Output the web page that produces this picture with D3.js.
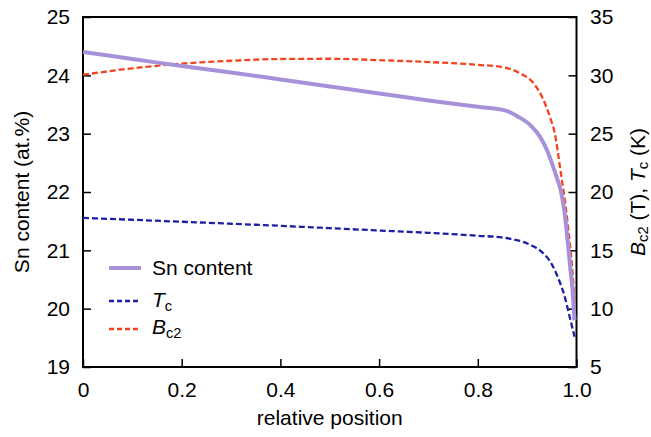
<!DOCTYPE html>
<html><head><meta charset="utf-8">
<script src="https://cdn.jsdelivr.net/npm/d3@7"></script>
<style>
html,body{margin:0;padding:0;background:#fff;}
text{font-family:"Liberation Sans",Arial,sans-serif;}
</style></head>
<body><svg id="c" width="651" height="437"></svg>
<script>
// ---- data ----
const snX   = [0,0.1,0.2,0.3,0.4,0.5,0.6,0.7,0.8,0.855,0.88,0.906,0.926,0.94,0.95,0.96,0.968,0.975,0.982,0.988,0.992,0.996];
const snY   = [24.40,24.28,24.16,24.05,23.93,23.81,23.69,23.57,23.46,23.40,23.30,23.15,22.95,22.72,22.50,22.25,22.03,21.70,21.17,20.65,20.32,19.80];
const tcX   = [0,0.1,0.2,0.3,0.4,0.5,0.6,0.7,0.8,0.85,0.87,0.89,0.91,0.93,0.95,0.965,0.975,0.985,0.996];
const tcY   = [17.78,17.62,17.45,17.28,17.10,16.90,16.70,16.50,16.25,16.10,15.95,15.75,15.40,14.85,13.80,12.40,11.20,9.50,7.60];
const bcX   = [0,0.1,0.2,0.3,0.4,0.5,0.6,0.683,0.8,0.852,0.886,0.913,0.93,0.946,0.956,0.967,0.982,0.992,0.997];
const bcY   = [30.05,30.60,31.00,31.25,31.40,31.42,31.30,31.17,30.90,30.69,30.17,29.32,28.17,26.45,25.03,22.00,17.35,13.06,10.00];
const xTicks = [0,0.2,0.4,0.6,0.8,1.0];
const leftTicks = [19,20,21,22,23,24,25];
const rightTicks = [5,10,15,20,25,30,35];

// ---- layout ----
const svg = d3.select("#c");
const L=83, R=576.5, T=17, B=367;
const x = d3.scaleLinear().domain([0,1]).range([L,R]);
const yL = d3.scaleLinear().domain([19,25]).range([B,T]);
const yR = d3.scaleLinear().domain([5,35]).range([B,T]);
const FS = 21;

const gx = svg.append("g").attr("transform",`translate(0,${B})`)
  .call(d3.axisBottom(x).tickValues(xTicks).tickSize(-8).tickSizeOuter(0).tickPadding(15)
    .tickFormat(d=>d===0?"0":d3.format(".1f")(d)));
const gl = svg.append("g").attr("transform",`translate(${L},0)`)
  .call(d3.axisLeft(yL).tickValues(leftTicks).tickSize(-8).tickSizeOuter(0).tickPadding(13).tickFormat(d3.format("d")));
const gr = svg.append("g").attr("transform",`translate(${R},0)`)
  .call(d3.axisRight(yR).tickValues(rightTicks).tickSize(-8).tickSizeOuter(0).tickPadding(13.5).tickFormat(d3.format("d")));
[gx,gl,gr].forEach(g=>{
  g.selectAll("text").attr("font-size",FS).attr("fill","#000").attr("font-family","Liberation Sans, Arial, sans-serif");
  g.selectAll("line").attr("stroke","#000").attr("stroke-width",1.5);
  g.select(".domain").remove();
});
svg.append("rect").attr("x",L).attr("y",T).attr("width",R-L).attr("height",B-T)
  .attr("fill","none").attr("stroke","#000").attr("stroke-width",2);

// ---- lines ----
const lineL = d3.line().x(d=>x(d[0])).y(d=>yL(d[1])).curve(d3.curveMonotoneX);
const lineR = d3.line().x(d=>x(d[0])).y(d=>yR(d[1])).curve(d3.curveMonotoneX);
const BLUE="#1f1fa6", RED="#f2441f", PURP="#a792da";
svg.append("path").datum(bcX.map((v,i)=>[v,bcY[i]])).attr("d",lineR)
  .attr("fill","none").attr("stroke",RED).attr("stroke-width",2.3).attr("stroke-dasharray","6,3");
svg.append("path").datum(tcX.map((v,i)=>[v,tcY[i]])).attr("d",lineR)
  .attr("fill","none").attr("stroke",BLUE).attr("stroke-width",2.3).attr("stroke-dasharray","6,3");
svg.append("path").datum(snX.map((v,i)=>[v,snY[i]])).attr("d",lineL)
  .attr("fill","none").attr("stroke",PURP).attr("stroke-width",4);

// ---- axis labels ----
svg.append("text").attr("x",x(0.5)).attr("y",425).attr("text-anchor","middle")
  .attr("font-size",FS).text("relative position");
svg.append("text").attr("transform",`translate(29,${(T+B)/2}) rotate(-90)`).attr("text-anchor","middle")
  .attr("font-size",FS).text("Sn content (at.%)");
const rl = svg.append("text").attr("transform",`translate(645,${(T+B)/2}) rotate(-90)`).attr("text-anchor","middle")
  .attr("font-size",FS);
rl.append("tspan").attr("font-style","italic").text("B");
rl.append("tspan").attr("font-size",FS*0.7).attr("dy",3).text("c2");
rl.append("tspan").attr("dy",-3).text(" (T),  ");
rl.append("tspan").attr("font-style","italic").text("T");
rl.append("tspan").attr("font-size",FS*0.7).attr("dy",3).text("c");
rl.append("tspan").attr("dy",-3).text(" (K)");

// ---- legend ----
const leg = [
  {y:268, ty:275, c:PURP, w:4, dash:null, lab:[["Sn content",false,false]]},
  {y:301, ty:306.5, c:BLUE, w:2.3, dash:"5,3", lab:[["T",true,false],["c",false,true]]},
  {y:329, ty:334, c:RED, w:2.3, dash:"5,3", lab:[["B",true,false],["c2",false,true]]}
];
leg.forEach(l=>{
  svg.append("line").attr("x1",109).attr("x2",141).attr("y1",l.y).attr("y2",l.y)
    .attr("stroke",l.c).attr("stroke-width",l.w).attr("stroke-dasharray",l.dash);
  const t = svg.append("text").attr("x",152).attr("y",l.ty).attr("font-size",FS);
  l.lab.forEach(p=>{
    const s=t.append("tspan").text(p[0]);
    if(p[1]) s.attr("font-style","italic");
    if(p[2]) s.attr("font-size",FS*0.7).attr("dy",4);
  });
});
</script></body></html>
